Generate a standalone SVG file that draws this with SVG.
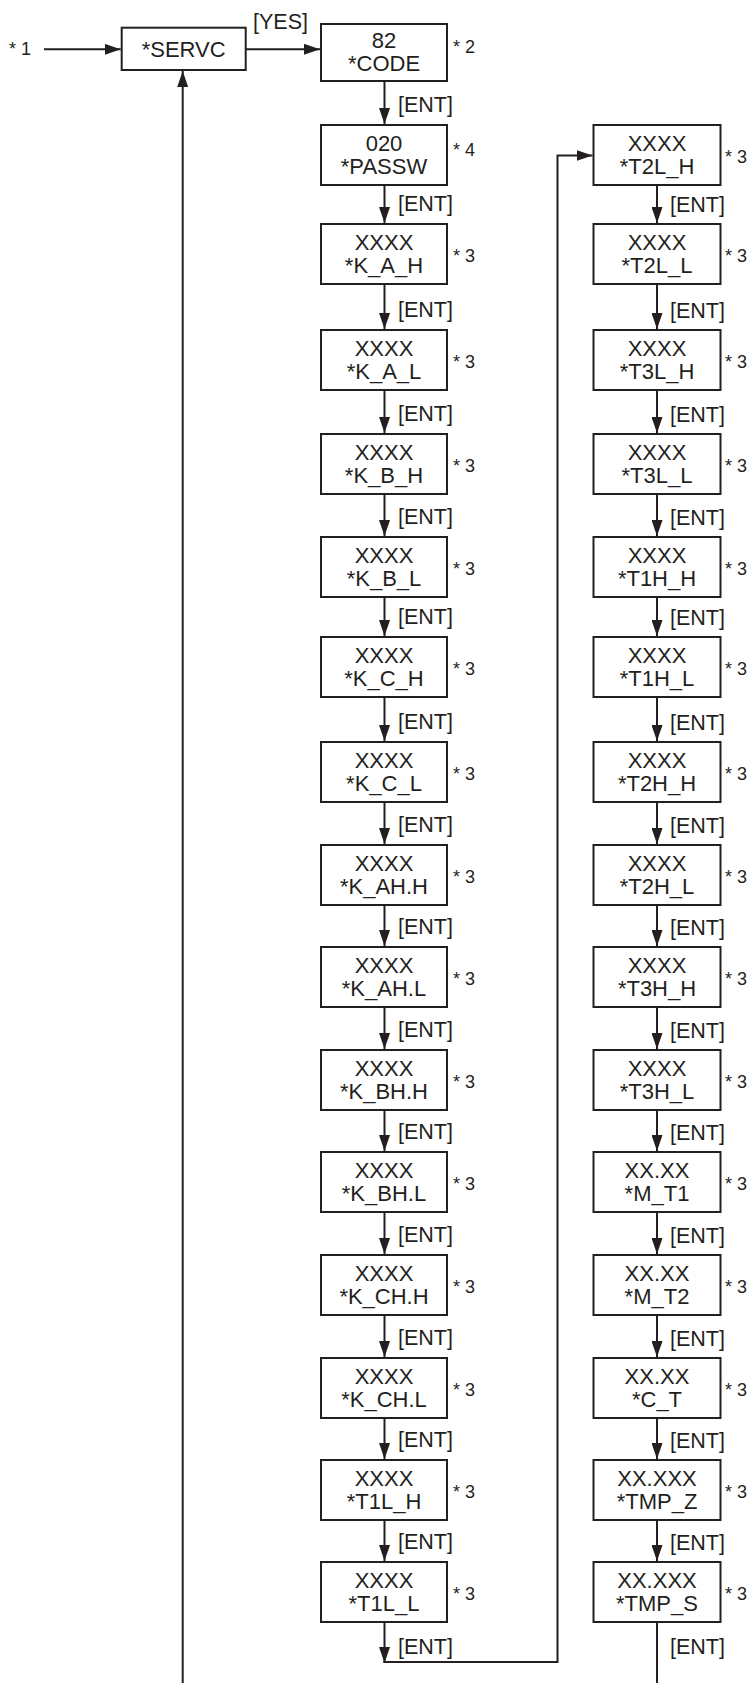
<svg xmlns="http://www.w3.org/2000/svg" width="749" height="1683" viewBox="0 0 749 1683">
<style>
.b{fill:#fff;stroke:#231f20;stroke-width:2}
.t{font-family:"Liberation Sans",Arial,sans-serif;font-size:22px;fill:#231f20;text-anchor:middle}
.s{font-family:"Liberation Sans",Arial,sans-serif;font-size:18px;fill:#231f20}
.e{font-family:"Liberation Sans",Arial,sans-serif;font-size:21.5px;fill:#231f20}
.c{fill:none;stroke:#231f20;stroke-width:2}
.a{fill:none;stroke:#231f20;stroke-width:2;marker-end:url(#arr)}
</style>
<defs>
<marker id="arr" markerUnits="userSpaceOnUse" markerWidth="16" markerHeight="11" refX="16" refY="5.5" orient="auto">
<path d="M0,0 L16,5.5 L0,11 z" fill="#231f20"/>
</marker>
</defs>
<rect width="749" height="1683" fill="#fff"/>
<g id="connectors">
<line class="a" x1="44" y1="49.3" x2="120.7" y2="49.3"/>
<line class="a" x1="245.7" y1="49.3" x2="320" y2="49.3"/>
<line class="a" x1="182.7" y1="1683" x2="182.7" y2="71"/>
<line class="a" x1="384.5" y1="82" x2="384.5" y2="124"/>
<line class="a" x1="384.5" y1="186" x2="384.5" y2="223"/>
<line class="a" x1="384.5" y1="285" x2="384.5" y2="329"/>
<line class="a" x1="384.5" y1="391" x2="384.5" y2="433"/>
<line class="a" x1="384.5" y1="495" x2="384.5" y2="536"/>
<line class="a" x1="384.5" y1="598" x2="384.5" y2="636"/>
<line class="a" x1="384.5" y1="698" x2="384.5" y2="741"/>
<line class="a" x1="384.5" y1="803" x2="384.5" y2="844"/>
<line class="a" x1="384.5" y1="906" x2="384.5" y2="946"/>
<line class="a" x1="384.5" y1="1008" x2="384.5" y2="1049"/>
<line class="a" x1="384.5" y1="1111" x2="384.5" y2="1151"/>
<line class="a" x1="384.5" y1="1213" x2="384.5" y2="1254"/>
<line class="a" x1="384.5" y1="1316" x2="384.5" y2="1357"/>
<line class="a" x1="384.5" y1="1419" x2="384.5" y2="1459"/>
<line class="a" x1="384.5" y1="1521" x2="384.5" y2="1561"/>
<line class="a" x1="384.5" y1="1623" x2="384.5" y2="1663"/>
<path class="a" d="M383.5,1662 H557.5 V155.5 H592.5"/>
<line class="a" x1="657" y1="186" x2="657" y2="223"/>
<line class="a" x1="657" y1="285" x2="657" y2="329"/>
<line class="a" x1="657" y1="391" x2="657" y2="433"/>
<line class="a" x1="657" y1="495" x2="657" y2="536"/>
<line class="a" x1="657" y1="598" x2="657" y2="636"/>
<line class="a" x1="657" y1="698" x2="657" y2="741"/>
<line class="a" x1="657" y1="803" x2="657" y2="844"/>
<line class="a" x1="657" y1="906" x2="657" y2="946"/>
<line class="a" x1="657" y1="1008" x2="657" y2="1049"/>
<line class="a" x1="657" y1="1111" x2="657" y2="1151"/>
<line class="a" x1="657" y1="1213" x2="657" y2="1254"/>
<line class="a" x1="657" y1="1316" x2="657" y2="1357"/>
<line class="a" x1="657" y1="1419" x2="657" y2="1459"/>
<line class="a" x1="657" y1="1521" x2="657" y2="1561"/>
<line class="c" x1="657" y1="1623" x2="657" y2="1683"/>
<text class="e" x="253" y="29">[YES]</text>
<text class="e" x="398" y="112">[ENT]</text>
<text class="e" x="398" y="211">[ENT]</text>
<text class="e" x="398" y="317">[ENT]</text>
<text class="e" x="398" y="421">[ENT]</text>
<text class="e" x="398" y="524">[ENT]</text>
<text class="e" x="398" y="624">[ENT]</text>
<text class="e" x="398" y="729">[ENT]</text>
<text class="e" x="398" y="832">[ENT]</text>
<text class="e" x="398" y="934">[ENT]</text>
<text class="e" x="398" y="1037">[ENT]</text>
<text class="e" x="398" y="1139">[ENT]</text>
<text class="e" x="398" y="1242">[ENT]</text>
<text class="e" x="398" y="1345">[ENT]</text>
<text class="e" x="398" y="1447">[ENT]</text>
<text class="e" x="398" y="1549">[ENT]</text>
<text class="e" x="398" y="1654">[ENT]</text>
<text class="e" x="670" y="212">[ENT]</text>
<text class="e" x="670" y="318">[ENT]</text>
<text class="e" x="670" y="422">[ENT]</text>
<text class="e" x="670" y="525">[ENT]</text>
<text class="e" x="670" y="625">[ENT]</text>
<text class="e" x="670" y="730">[ENT]</text>
<text class="e" x="670" y="833">[ENT]</text>
<text class="e" x="670" y="935">[ENT]</text>
<text class="e" x="670" y="1038">[ENT]</text>
<text class="e" x="670" y="1140">[ENT]</text>
<text class="e" x="670" y="1243">[ENT]</text>
<text class="e" x="670" y="1346">[ENT]</text>
<text class="e" x="670" y="1448">[ENT]</text>
<text class="e" x="670" y="1550">[ENT]</text>
<text class="e" x="670" y="1654">[ENT]</text>
</g>
<g id="start"><text class="s" x="9" y="55">* 1</text></g>
<g id="n-servc"><rect class="b" x="121.7" y="27.7" width="124" height="42.3"/><text class="t" x="183.7" y="57">*SERVC</text></g>
<g id="n-code"><rect class="b" x="321" y="24" width="126" height="57"/><text class="t" x="384" y="48">82</text><text class="t" x="384" y="71">*CODE</text><text class="s" x="453" y="53">* 2</text></g>
<g id="n-passw"><rect class="b" x="321" y="125" width="126" height="60"/><text class="t" x="384" y="151">020</text><text class="t" x="384" y="174">*PASSW</text><text class="s" x="453" y="156">* 4</text></g>
<g id="n-k_a_h"><rect class="b" x="321" y="224" width="126" height="60"/><text class="t" x="384" y="250">XXXX</text><text class="t" x="384" y="273">*K_A_H</text><text class="s" x="453" y="262">* 3</text></g>
<g id="n-k_a_l"><rect class="b" x="321" y="330" width="126" height="60"/><text class="t" x="384" y="356">XXXX</text><text class="t" x="384" y="379">*K_A_L</text><text class="s" x="453" y="368">* 3</text></g>
<g id="n-k_b_h"><rect class="b" x="321" y="434" width="126" height="60"/><text class="t" x="384" y="460">XXXX</text><text class="t" x="384" y="483">*K_B_H</text><text class="s" x="453" y="472">* 3</text></g>
<g id="n-k_b_l"><rect class="b" x="321" y="537" width="126" height="60"/><text class="t" x="384" y="563">XXXX</text><text class="t" x="384" y="586">*K_B_L</text><text class="s" x="453" y="575">* 3</text></g>
<g id="n-k_c_h"><rect class="b" x="321" y="637" width="126" height="60"/><text class="t" x="384" y="663">XXXX</text><text class="t" x="384" y="686">*K_C_H</text><text class="s" x="453" y="675">* 3</text></g>
<g id="n-k_c_l"><rect class="b" x="321" y="742" width="126" height="60"/><text class="t" x="384" y="768">XXXX</text><text class="t" x="384" y="791">*K_C_L</text><text class="s" x="453" y="780">* 3</text></g>
<g id="n-k_ah_h"><rect class="b" x="321" y="845" width="126" height="60"/><text class="t" x="384" y="871">XXXX</text><text class="t" x="384" y="894">*K_AH.H</text><text class="s" x="453" y="883">* 3</text></g>
<g id="n-k_ah_l"><rect class="b" x="321" y="947" width="126" height="60"/><text class="t" x="384" y="973">XXXX</text><text class="t" x="384" y="996">*K_AH.L</text><text class="s" x="453" y="985">* 3</text></g>
<g id="n-k_bh_h"><rect class="b" x="321" y="1050" width="126" height="60"/><text class="t" x="384" y="1076">XXXX</text><text class="t" x="384" y="1099">*K_BH.H</text><text class="s" x="453" y="1088">* 3</text></g>
<g id="n-k_bh_l"><rect class="b" x="321" y="1152" width="126" height="60"/><text class="t" x="384" y="1178">XXXX</text><text class="t" x="384" y="1201">*K_BH.L</text><text class="s" x="453" y="1190">* 3</text></g>
<g id="n-k_ch_h"><rect class="b" x="321" y="1255" width="126" height="60"/><text class="t" x="384" y="1281">XXXX</text><text class="t" x="384" y="1304">*K_CH.H</text><text class="s" x="453" y="1293">* 3</text></g>
<g id="n-k_ch_l"><rect class="b" x="321" y="1358" width="126" height="60"/><text class="t" x="384" y="1384">XXXX</text><text class="t" x="384" y="1407">*K_CH.L</text><text class="s" x="453" y="1396">* 3</text></g>
<g id="n-t1l_h"><rect class="b" x="321" y="1460" width="126" height="60"/><text class="t" x="384" y="1486">XXXX</text><text class="t" x="384" y="1509">*T1L_H</text><text class="s" x="453" y="1498">* 3</text></g>
<g id="n-t1l_l"><rect class="b" x="321" y="1562" width="126" height="60"/><text class="t" x="384" y="1588">XXXX</text><text class="t" x="384" y="1611">*T1L_L</text><text class="s" x="453" y="1600">* 3</text></g>
<g id="n-t2l_h"><rect class="b" x="593.5" y="125" width="127" height="60"/><text class="t" x="657" y="151">XXXX</text><text class="t" x="657" y="174">*T2L_H</text><text class="s" x="725" y="163">* 3</text></g>
<g id="n-t2l_l"><rect class="b" x="593.5" y="224" width="127" height="60"/><text class="t" x="657" y="250">XXXX</text><text class="t" x="657" y="273">*T2L_L</text><text class="s" x="725" y="262">* 3</text></g>
<g id="n-t3l_h"><rect class="b" x="593.5" y="330" width="127" height="60"/><text class="t" x="657" y="356">XXXX</text><text class="t" x="657" y="379">*T3L_H</text><text class="s" x="725" y="368">* 3</text></g>
<g id="n-t3l_l"><rect class="b" x="593.5" y="434" width="127" height="60"/><text class="t" x="657" y="460">XXXX</text><text class="t" x="657" y="483">*T3L_L</text><text class="s" x="725" y="472">* 3</text></g>
<g id="n-t1h_h"><rect class="b" x="593.5" y="537" width="127" height="60"/><text class="t" x="657" y="563">XXXX</text><text class="t" x="657" y="586">*T1H_H</text><text class="s" x="725" y="575">* 3</text></g>
<g id="n-t1h_l"><rect class="b" x="593.5" y="637" width="127" height="60"/><text class="t" x="657" y="663">XXXX</text><text class="t" x="657" y="686">*T1H_L</text><text class="s" x="725" y="675">* 3</text></g>
<g id="n-t2h_h"><rect class="b" x="593.5" y="742" width="127" height="60"/><text class="t" x="657" y="768">XXXX</text><text class="t" x="657" y="791">*T2H_H</text><text class="s" x="725" y="780">* 3</text></g>
<g id="n-t2h_l"><rect class="b" x="593.5" y="845" width="127" height="60"/><text class="t" x="657" y="871">XXXX</text><text class="t" x="657" y="894">*T2H_L</text><text class="s" x="725" y="883">* 3</text></g>
<g id="n-t3h_h"><rect class="b" x="593.5" y="947" width="127" height="60"/><text class="t" x="657" y="973">XXXX</text><text class="t" x="657" y="996">*T3H_H</text><text class="s" x="725" y="985">* 3</text></g>
<g id="n-t3h_l"><rect class="b" x="593.5" y="1050" width="127" height="60"/><text class="t" x="657" y="1076">XXXX</text><text class="t" x="657" y="1099">*T3H_L</text><text class="s" x="725" y="1088">* 3</text></g>
<g id="n-m_t1"><rect class="b" x="593.5" y="1152" width="127" height="60"/><text class="t" x="657" y="1178">XX.XX</text><text class="t" x="657" y="1201">*M_T1</text><text class="s" x="725" y="1190">* 3</text></g>
<g id="n-m_t2"><rect class="b" x="593.5" y="1255" width="127" height="60"/><text class="t" x="657" y="1281">XX.XX</text><text class="t" x="657" y="1304">*M_T2</text><text class="s" x="725" y="1293">* 3</text></g>
<g id="n-c_t"><rect class="b" x="593.5" y="1358" width="127" height="60"/><text class="t" x="657" y="1384">XX.XX</text><text class="t" x="657" y="1407">*C_T</text><text class="s" x="725" y="1396">* 3</text></g>
<g id="n-tmp_z"><rect class="b" x="593.5" y="1460" width="127" height="60"/><text class="t" x="657" y="1486">XX.XXX</text><text class="t" x="657" y="1509">*TMP_Z</text><text class="s" x="725" y="1498">* 3</text></g>
<g id="n-tmp_s"><rect class="b" x="593.5" y="1562" width="127" height="60"/><text class="t" x="657" y="1588">XX.XXX</text><text class="t" x="657" y="1611">*TMP_S</text><text class="s" x="725" y="1600">* 3</text></g>
</svg>
